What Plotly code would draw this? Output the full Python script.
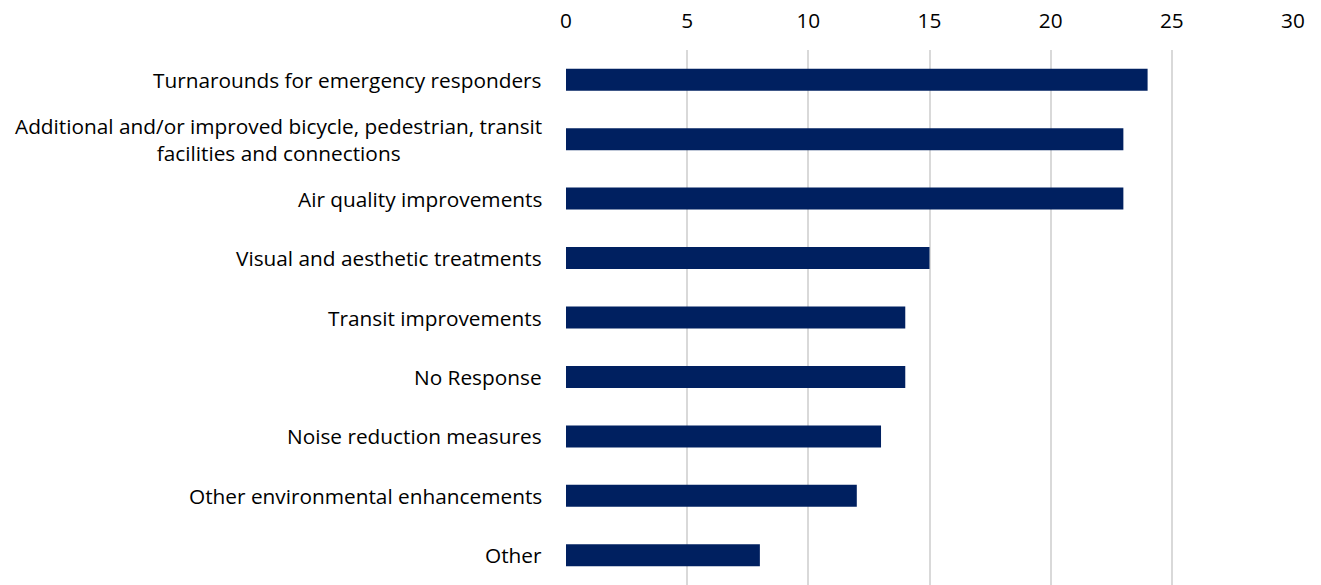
import plotly.graph_objects as go

# Responses per category, listed top to bottom as displayed
categories = [
    "Turnarounds for emergency responders",
    "Additional and/or improved bicycle, pedestrian, transit<br>facilities and connections",
    "Air quality improvements",
    "Visual and aesthetic treatments",
    "Transit improvements",
    "No Response",
    "Noise reduction measures",
    "Other environmental enhancements",
    "Other",
]
counts = [24, 23, 23, 15, 14, 14, 13, 12, 8]
x_ticks = [0, 5, 10, 15, 20, 25, 30]

FONT = "Open Sans"
BAR_COLOR = "#002060"

fig = go.Figure(
    go.Bar(
        x=counts,
        y=list(range(len(categories))),
        orientation="h",
        marker=dict(color=BAR_COLOR, line=dict(width=0)),
        hoverinfo="x",
    )
)

# Category labels as annotations so that wrapped labels are centred line by line
for i, label in enumerate(categories):
    fig.add_annotation(
        x=0, xref="paper", y=i, yref="y",
        text=label, showarrow=False,
        xanchor="right", yanchor="middle", align="center",
        xshift=-22,
        font=dict(family=FONT, size=20.8, color="#000000"),
    )

fig.update_layout(
    width=1321, height=585,
    margin=dict(l=566, r=28, t=50, b=0),
    paper_bgcolor="white", plot_bgcolor="white",
    bargap=0.63,
    showlegend=False,
    font=dict(family=FONT, size=20.8, color="#000000"),
)
fig.update_xaxes(
    side="top", range=[0, 30], tickvals=x_ticks,
    showgrid=True, gridcolor="#d9d9d9", gridwidth=1.5,
    zeroline=False, showline=False, ticks="",
    ticklabelstandoff=17,
    tickfont=dict(family=FONT, size=20.8, color="#000000"),
)
fig.update_yaxes(
    range=[len(categories) - 0.5, -0.5],
    showticklabels=False, showgrid=False, zeroline=False, showline=False, ticks="",
)

fig.write_html("out.html")
